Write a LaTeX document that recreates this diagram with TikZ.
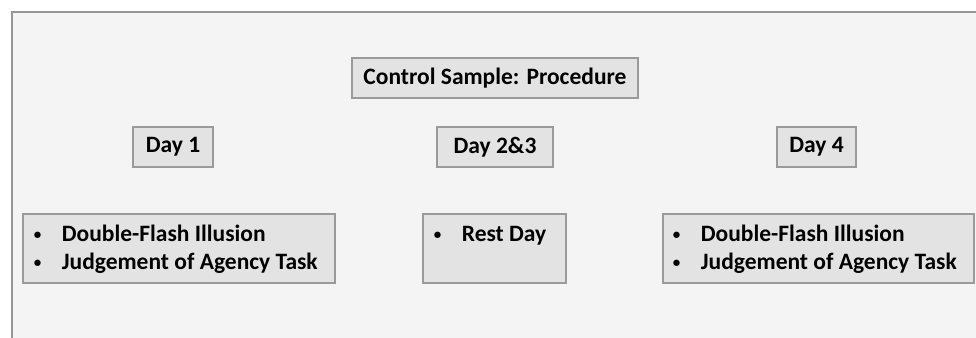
\documentclass[tikz,border=0pt]{standalone}
\usepackage{fontspec}
\setmainfont{Carlito}
\usetikzlibrary{positioning}
\definecolor{panelbg}{HTML}{F4F4F4}
\definecolor{panelline}{HTML}{979797}
\definecolor{boxfill}{HTML}{E3E3E3}
\definecolor{boxline}{HTML}{9A9A9A}
\newcommand{\tasklist}[1]{\begin{tabular}[t]{@{}p{28pt}@{}l@{}}#1\end{tabular}}
\newcommand{\taskdot}{\raisebox{2.5pt}{\fontsize{15}{28}\selectfont\textbullet}}
\tikzset{
  daybox/.style={draw=boxline, fill=boxfill, line width=2.6pt, inner sep=0pt,
    minimum height=40pt, font=\bfseries\fontsize{23.5}{28}\selectfont},
  taskbox/.style={daybox, minimum height=69pt},
  tasktext/.style={anchor=base west, inner sep=0pt, font=\bfseries\fontsize{23.5}{28}\selectfont}
}
\begin{document}
\begin{tikzpicture}[x=1pt,y=-1pt]
\useasboundingbox (0,0) rectangle (976,337);
\fill[white] (0,0) rectangle (976,337);
\fill[panelbg] (11.5,12) rectangle (980,340);
\draw[panelline, line width=2pt] (11.5,340) -- (11.5,12) -- (980,12);
% heading and days
\node[daybox, minimum width=286pt] (title) at (495,78) {Control Sample: Procedure};
\node[daybox, minimum width=80pt] (day1) at (173,147) {Day 1};
\node[daybox, minimum width=116pt] (day23) at (495,147) {Day 2\&3};
\node[daybox, minimum width=79pt] (day4) at (816.5,147) {Day 4};
% tasks
\node[taskbox, minimum width=312pt] (task1) at (179,248.5) {};
\node[taskbox, minimum width=143pt] (task23) at (494.5,248.5) {};
\node[taskbox, minimum width=311pt] (task4) at (818.5,248.5) {};
\node[tasktext] (list1) at ([xshift=12pt,yshift=-29pt]task1.north west)
  {\tasklist{\taskdot & Double-Flash Illusion\\ \taskdot & Judgement of Agency Task}};
\node[tasktext] (list23) at ([xshift=12pt,yshift=-29pt]task23.north west)
  {\tasklist{\taskdot & Rest Day}};
\node[tasktext] (list4) at ([xshift=11pt,yshift=-29pt]task4.north west)
  {\tasklist{\taskdot & Double-Flash Illusion\\ \taskdot & Judgement of Agency Task}};
\end{tikzpicture}
\end{document}
